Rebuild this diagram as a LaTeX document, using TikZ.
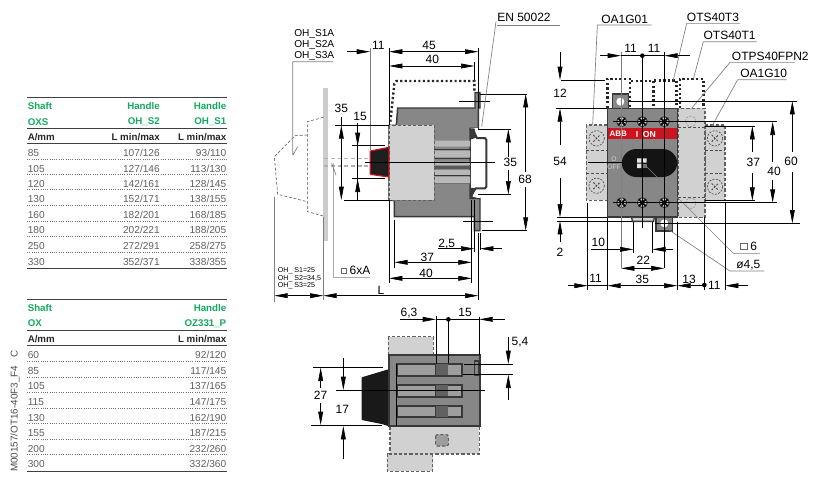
\documentclass[tikz,border=0pt]{standalone}
\usepackage{fontspec}
\setmainfont{Liberation Sans}
\usetikzlibrary{arrows.meta}
\definecolor{tgreen}{RGB}{20,170,95}
\definecolor{abbred}{RGB}{204,20,32}
\definecolor{bodyg}{gray}{0.53}
\definecolor{lightg}{gray}{0.82}
\definecolor{edgeg}{gray}{0.22}
\tikzset{
 x=0.75pt,y=-0.75pt,
 lab/.style={font=\fontsize{9}{9}\selectfont,inner sep=0pt,text=black},
 lableft/.style={lab,anchor=west},
 hs/.style={font=\fontsize{7.3}{8}\selectfont\bfseries,text=tgreen,inner sep=0pt},
 hd/.style={font=\fontsize{7.3}{8}\selectfont\bfseries,text=black!85,inner sep=0pt},
 rw/.style={font=\fontsize{7.6}{8}\selectfont,text=black!62,inner sep=0pt},
 trule/.style={line width=0.7pt,draw=black!75},
 tdot/.style={line width=0.5pt,draw=black!55,dash pattern=on 0.6pt off 1.1pt},
 dimn/.style={line width=0.5pt,draw=black,{Triangle[length=10pt,width=3.6pt]}-{Triangle[length=10pt,width=3.6pt]}},
 dimr/.style={line width=0.5pt,draw=black,-{Triangle[length=10pt,width=3.6pt]}},
 ext/.style={line width=0.5pt,draw=black},
 lead/.style={line width=0.5pt,draw=black!50},
 thickdot/.style={line width=1.8pt,draw=black!85,dash pattern=on 1.6pt off 1.8pt},
 thindash/.style={line width=0.4pt,draw=black!70,dash pattern=on 2.2pt off 1.4pt},
 lgbox/.style={fill=lightg,draw=black!62,line width=0.8pt,dash pattern=on 2.4pt off 1.5pt},
 bodyline/.style={line width=1.1pt,draw=edgeg,fill=bodyg},
}
\begin{document}
\begin{tikzpicture}
\useasboundingbox (0,0) rectangle (824,487);
\fill[white] (0,0) rectangle (824,487);
% ---------- table 1
\draw[trule] (27,97)--(227,97); \draw[trule] (27,128)--(227,128); \draw[trule] (27,143.3)--(227,143.3); \draw[trule] (27,268.3)--(227,268.3);
\node[hs,anchor=west] at (27.5,105.7) {Shaft};
\node[hs,anchor=east] at (160,105.7) {Handle};
\node[hs,anchor=east] at (226.5,105.7) {Handle};
\node[hs,anchor=west] at (27.5,121.7) {OXS};
\node[hs,anchor=east] at (160,121.7) {OH\_S2};
\node[hs,anchor=east] at (226.5,121.7) {OH\_S1};
\node[hd,anchor=west] at (27.5,136.7) {A/mm};
\node[hd,anchor=east] at (160,136.7) {L min/max};
\node[hd,anchor=east] at (226.5,136.7) {L min/max};
\foreach \yy/\aa/\bb/\cc in {152.7/85/{107/126}/{93/110},168.7/105/{127/146}/{113/130},184/120/{142/161}/{128/145},199.3/130/{152/171}/{138/155},214.7/160/{182/201}/{168/185},230.3/180/{202/221}/{188/205},246.3/250/{272/291}/{258/275},261.7/330/{352/371}/{338/355}}{
 \node[rw,anchor=west] at (27.5,\yy) {\aa};
 \node[rw,anchor=east] at (160,\yy) {\bb};
 \node[rw,anchor=east] at (226.5,\yy) {\cc};
}
\foreach \yy in {159,174.3,189.7,205.3,221,236.7,252}{\draw[tdot] (27,\yy)--(227,\yy);}
% ---------- table 2
\draw[trule] (27,299.3)--(227,299.3); \draw[trule] (27,330.7)--(227,330.7); \draw[trule] (27,345.7)--(227,345.7); \draw[trule] (27,471)--(227,471);
\node[hs,anchor=west] at (27.5,307.7) {Shaft};
\node[hs,anchor=east] at (226.5,307.7) {Handle};
\node[hs,anchor=west] at (27.5,323.3) {OX};
\node[hs,anchor=east] at (226.5,323.3) {OZ331\_P};
\node[hd,anchor=west] at (27.5,339) {A/mm};
\node[hd,anchor=east] at (226.5,339) {L min/max};
\foreach \yy/\aa/\cc in {355/60/{92/120},370.7/85/{117/145},385.7/105/{137/165},402/115/{147/175},417.7/130/{162/190},432.7/155/{187/215},448.7/200/{232/260},464/300/{332/360}}{
 \node[rw,anchor=west] at (27.5,\yy) {\aa};
 \node[rw,anchor=east] at (226.5,\yy) {\cc};
}
\foreach \yy in {361.3,377,392.3,408,423.7,439,454.7}{\draw[tdot] (27,\yy)--(227,\yy);}
\node[rw,rotate=90,anchor=west,text=black!70,font=\fontsize{7.4}{8}\selectfont] at (15,472) {M00157/OT16-40F3\_F4\hspace{4pt} C};
% ---------- side view
\begin{scope}[shift={(265,20)},xscale=1/3,yscale=1/3]
 \fill[black!20] (175,205) rectangle (188,662);
 \draw[thindash] (175,292)--(127,305)--(127,575)--(175,588);
 \draw[thindash] (127,345)--(90,347)--(28,410)--(38,523)--(127,545);
 \draw[line width=1pt,draw=black!30,dash pattern=on 3pt off 2pt] (178,415)--(315,415) (178,438)--(315,438);
 \draw[thickdot] (376,305)--(388,192)--(394,183)--(628,183)--(628,215);
 % body
 \draw[bodyline] (398,264)--(630,264)--(630,218)--(645,218)--(645,264)--(640,264)--(640,325)--(615,325)--(615,535)--(645,535)--(645,632)--(628,632)--(628,590)--(388,590)--(388,541)--(372,541)--(372,316)--(394,316)--cycle;
 % DIN rail
 \fill[white] (619,325) -- (640,325) -- (640,354) -- (619,354) -- cycle;
 \fill[white] (619,354) rectangle (662,505);
 \fill[white] (619,505) -- (645,505) -- (645,534) -- (619,534) -- cycle;
 \draw[line width=1.5pt,draw=edgeg] (630,342)--(636,354)--(660,354)--(664,360)--(664,500)--(660,505)--(632,505)--(622,520);
 \draw[line width=1.2pt,draw=edgeg] (617,326)--(617,533);
 \fill[edgeg] (615,325)--(628,325)--(636,352)--(618,358)--cycle (615,503)--(632,505)--(622,530)--(645,536)--(615,536)--cycle;
 % stripes
 \fill[black!28] (508,362) rectangle (615,380) (508,392) rectangle (615,412) (508,425) rectangle (615,435) (508,450) rectangle (615,465) (508,470) rectangle (615,490);
 \fill[black!65] (508,437) rectangle (615,447);
 \foreach \yy in {388,414,467}{\draw[line width=0.7pt,draw=edgeg] (508,\yy)--(615,\yy);}
 \draw[line width=0.5pt,draw=black!55] (508,491)--(615,491);
 \draw[lgbox] (372,316) rectangle (508,541);
 \filldraw[fill=black!88,draw=abbred,line width=0.9pt,rounded corners=0.4pt] (316,393)--(372,382)--(372,471)--(316,463)--cycle;
 % dimensions
 \draw[lead] (205,125)--(83,125)--(83,405) (84,405)--(98,380);
 \draw[ext] (372,85)--(372,316) (640,85)--(640,264) (628,125)--(628,180);
 \draw[lead] (315,85)--(315,390);
 \draw[dimr] (245,95)--(315,95);
 \draw[dimn] (372,95)--(640,95);
 \draw[dimn] (372,138)--(628,138);
 \draw[ext] (210,316)--(372,316) (237,541)--(372,541);
 \draw[ext] (229,290)--(229,316);
 \draw[dimn] (229,316)--(229,540);
 \draw[ext] (278,310)--(278,540);
 \draw[dimr] (278,320)--(278,378);
 \draw[dimr] (278,535)--(278,476);
 \draw[ext] (262,376)--(360,376) (262,476)--(360,476);
 \draw[ext] (300,427)--(690,427);
 \draw[ext] (640,327)--(738,327) (640,523)--(738,523);
 \draw[dimr] (730,410)--(730,327);
 \draw[dimr] (730,450)--(730,523);
 \draw[ext] (645,222)--(787,222) (650,632)--(787,632);
 \draw[dimr] (782,455)--(782,222);
 \draw[dimr] (782,500)--(782,632);
 \draw[ext] (583,243)--(675,243) (595,605)--(683,605);
 \draw[ext] (628,540)--(628,695) (645,640)--(645,690);
 \draw[dimr] (520,686)--(628,686);
 \draw[dimr] (710,686)--(645,686);
 \draw[ext] (620,540)--(620,790) (388,600)--(388,745) (372,541)--(372,790) (640,640)--(640,840);
 \draw[dimn] (388,727)--(620,727);
 \draw[dimn] (372,775)--(620,775);
 \draw[dimn] (175,827)--(640,827);
 \draw[dimn] (28,827)--(175,827);
 \draw[lead] (175,590)--(175,840) (28,530)--(28,845);
 \draw[lead] (200,430)--(213,465) (205,430)--(205,772)--(315,772);
 \draw[lead] (650,320)--(693,5);
 \node[lableft,font=\fontsize{7.6}{8}\selectfont] at (87,43) {OH\_S1A};
 \node[lableft,font=\fontsize{7.6}{8}\selectfont] at (87,75) {OH\_S2A};
 \node[lableft,font=\fontsize{7.6}{8}\selectfont] at (87,107) {OH\_S3A};
 \node[lab] at (340,75) {11};
 \node[lab] at (492,75) {45};
 \node[lab] at (502,118) {40};
 \node[lab] at (229,265) {35};
 \node[lab] at (285,290) {15};
 \node[lab] at (736,428) {35};
 \node[lab] at (780,478) {68};
 \node[lab] at (545,672) {2,5};
 \node[lab] at (487,712) {37};
 \node[lab] at (483,760) {40};
 \node[lab] at (348,812) {L};
 \foreach \yy/\tt in {752/{OH\_ S1=25},775/{OH\_ S2=34,5},798/{OH\_ S3=25}}{
  \node[lableft,font=\fontsize{5.3}{6}\selectfont] at (38,\yy) {\tt};
 }
 \draw[line width=0.4pt,draw=black!60] (228,744) rectangle (245,761);
 \node[lableft] at (253,752) {6xA};
\end{scope}
% EN 50022
\node[lableft] at (497,17) {EN 50022};
\draw[lead] (497,25)--(560,25);
% ---------- front view
\begin{scope}[shift={(545,5)},xscale=1/3,yscale=1/3]
 % dotted
 \draw[thickdot] (187,308)--(187,222)--(255,222)--(255,310);
 \draw[thickdot] (258,228)--(325,228)--(325,310);
 \draw[thickdot] (328,226)--(395,226)--(395,310);
 \draw[thickdot] (405,310)--(405,222)--(475,222)--(475,310);
 % side modules
 \draw[lgbox] (124,360) rectangle (187,586);
 \draw[lgbox] (480,360) rectangle (540,586);
 \draw[lgbox] (400,310) rectangle (480,637);
 \draw[thindash] (124,437)--(187,437) (124,505)--(187,505) (480,437)--(540,437) (480,505)--(540,505) (400,368)--(480,368) (400,578)--(480,578);
 \foreach \xx/\yy in {155/400,155/542,510/400,510/545}{
  \draw[line width=0.5pt,draw=black!70,dash pattern=on 1.5pt off 1pt] (\xx,\yy) circle (23);
  \draw[line width=0.7pt,draw=black!70,dash pattern=on 1.5pt off 1pt] (\xx-10,\yy-10)--(\xx+10,\yy+10) (\xx-10,\yy+10)--(\xx+10,\yy-10);
 }
 \foreach \xx/\yy in {437/349,437/595}{
  \draw[line width=0.5pt,draw=black!40,dash pattern=on 1.5pt off 1pt] (\xx,\yy) circle (16);
 }
 % tabs
 \filldraw[line width=1pt,draw=edgeg,fill=bodyg] (203,312)--(203,267)--(250,267)--(250,312)--cycle;
 \fill[white] (226,290) circle (12);
 \filldraw[line width=1pt,draw=edgeg,fill=bodyg] (333,636)--(333,678)--(382,678)--(382,636)--cycle;
 \fill[white] (358,655) circle (12);
 \filldraw[line width=1pt,draw=edgeg,fill=lightg] (260,636)--(262,649)--(326,649)--(328,636)--cycle;
 % body
 \draw[bodyline] (187,310) rectangle (397,636);
 \fill[abbred] (188,368) rectangle (396,402);
 \node[font=\fontsize{6}{8}\selectfont\bfseries,text=white,inner sep=0pt] at (220,386) {ABB};
 \node[font=\fontsize{6.5}{8}\selectfont\bfseries,text=white,inner sep=0pt] at (276,388) {I};
 \node[font=\fontsize{6.5}{8}\selectfont\bfseries,text=white,inner sep=0pt] at (313,388) {ON};
 \node[font=\fontsize{5}{6}\selectfont,text=black!18,inner sep=0pt] at (207,463) {O};
 \node[font=\fontsize{5}{6}\selectfont,text=black!18,inner sep=0pt] at (207,488) {OFF};
 \fill[black!92,rounded corners=11pt] (230,432) rectangle (397,516);
 \fill[black!10] (276,460) rectangle (289,473) (292,460) rectangle (305,473) (276,476) rectangle (289,489);
 \fill[black!55] (292,476) rectangle (305,489);
 \foreach \xx/\yy in {230/350,292/350,358/350,230/593,292/593,358/593}{
  \filldraw[fill=black!22,draw=black!80,line width=0.7pt] (\xx,\yy) circle (15);
  \draw[line width=1.4pt,draw=black!95] (\xx-10,\yy-10)--(\xx+10,\yy+10) (\xx-10,\yy+10)--(\xx+10,\yy-10);
 }
 % leaders
 \draw[lead] (157,60)--(320,60) (157,60)--(143,360);
 \draw[lead] (425,55)--(585,55) (425,55)--(385,225);
 \draw[lead] (475,110)--(635,110) (475,110)--(445,222);
 \draw[lead] (555,172)--(748,172) (555,172)--(440,310);
 \draw[lead] (578,224)--(725,224) (578,224)--(500,365);
 \draw[lead] (565,745)--(645,745) (565,745)--(300,480);
 \draw[lead] (555,798)--(658,798) (555,798)--(365,670);
 \node[lableft] at (168,42) {OA1G01};
 \node[lableft] at (425,36) {OTS40T3};
 \node[lableft] at (475,92) {OTS40T1};
 \node[lableft] at (560,154) {OTPS40FPN2};
 \node[lableft] at (585,206) {OA1G10};
 \node[lab] at (257,130) {11};
 \node[lab] at (327,130) {11};
 \node[lab] at (45,265) {12};
 \node[lab] at (45,470) {54};
 \node[lab] at (45,742) {2};
 \node[lab] at (625,472) {37};
 \node[lab] at (687,498) {40};
 \node[lab] at (738,470) {60};
 \node[lab] at (160,713) {10};
 \node[lab] at (295,765) {22};
 \node[lab] at (152,820) {11};
 \node[lab] at (292,823) {35};
 \node[lab] at (432,823) {13};
 \node[lab] at (508,842) {11};
 \draw[line width=0.4pt,draw=black!60] (587,715) rectangle (606,733);
 \node[lableft] at (615,724) {6};
 \node[lableft] at (573,780) {ø4,5};
 % dims
 \draw[lead] (228,142)--(228,790);
 \draw[ext] (292,152)--(292,668) (358,142)--(358,790);
 \draw[dimr] (165,152)--(228,152);
 \draw[dimr] (435,152)--(358,152);
 \draw[ext] (228,152)--(358,152);
 \fill (292,152) circle (7);
 \draw[ext] (48,225)--(180,225) (33,310)--(187,310) (37,637)--(187,637) (37,648)--(260,648);
 \draw[dimr] (45,140)--(45,225);
 \draw[dimr] (45,420)--(45,310);
 \draw[dimr] (45,520)--(45,637);
 \draw[dimr] (45,712)--(45,648);
 \draw[ext] (250,288)--(757,288) (330,655)--(765,655);
 \draw[dimr] (742,440)--(742,288);
 \draw[dimr] (742,500)--(742,655);
 \draw[ext] (205,350)--(697,350) (205,593)--(695,593);
 \draw[dimr] (683,470)--(683,350);
 \draw[dimr] (683,525)--(683,593);
 \draw[ext] (480,363)--(630,363) (480,587)--(630,587);
 \draw[dimr] (622,440)--(622,363);
 \draw[dimr] (622,505)--(622,587);
 \draw[ext] (265,650)--(265,745) (322,650)--(322,745);
 \draw[dimr] (138,733)--(265,733);
 \draw[dimr] (385,733)--(322,733);
 \draw[dimn] (228,790)--(358,790);
 \draw[ext] (128,595)--(128,855) (187,640)--(187,855) (397,650)--(397,855) (478,637)--(478,855) (540,590)--(540,855);
 \draw[dimr] (70,842)--(128,842);
 \draw[dimn] (187,842)--(397,842);
 \draw[ext] (128,842)--(187,842);
 \draw[dimr] (478,842)--(397,842);
 \draw[dimr] (610,842)--(540,842);
 \fill (478,840) circle (7);
 \draw[ext] (128,472)--(230,472);
\end{scope}
% ---------- bottom view
\begin{scope}[shift={(300,300)},xscale=1/3,yscale=1/3]
 \draw[lgbox] (265,110) rectangle (400,164);
 \draw[lgbox] (262,460) rectangle (398,514);
 \draw[lgbox] (270,380) rectangle (538,462);
 \draw[lgbox,fill=black!38,rounded corners=1pt] (407,404) rectangle (445,438);
 \fill[black!90,rounded corners=0.5pt] (185,232)--(265,208)--(265,378)--(245,372)--(185,360)--cycle;
 \draw[bodyline] (267,165) rectangle (540,378);
 \foreach \yy/\hh in {191/36,255/35,317/35}{
  \filldraw[line width=1.3pt,draw=edgeg,fill=black!38] (290,\yy) rectangle (485,\yy+\hh);
  \fill[black!62] (407,\yy+1) rectangle (445,\yy+\hh-1);
  \draw[line width=0.7pt,draw=edgeg] (407,\yy)--(407,\yy+\hh);
 }
 \draw[line width=1.1pt,draw=edgeg] (524,183) rectangle (537,226);
 \draw[ext] (290,191)--(290,378);
 \draw[ext] (408,48)--(408,191) (445,58)--(445,190) (538,50)--(538,165);
 \draw[dimr] (300,58)--(408,58);
 \draw[dimr] (615,58)--(538,58);
 \draw[ext] (408,58)--(538,58);
 \fill (445,58) circle (7);
 \node[lab] at (327,38) {6,3};
 \node[lab] at (495,38) {15};
 \draw[ext] (492,192)--(640,192) (488,224)--(640,224);
 \draw[dimr] (625,110)--(625,192);
 \draw[dimr] (625,300)--(625,224);
 \node[lab] at (660,127) {5,4};
 \draw[ext] (108,270)--(555,270);
 \draw[ext] (40,203)--(248,203) (33,376)--(245,376);
 \draw[dimr] (62,265)--(62,203);
 \draw[dimr] (62,310)--(62,375);
 \node[lab] at (62,285) {27};
 \draw[dimr] (130,175)--(130,270);
 \draw[dimr] (130,478)--(130,378);
 \node[lab] at (127,327) {17};
\end{scope}
\end{tikzpicture}
\end{document}
